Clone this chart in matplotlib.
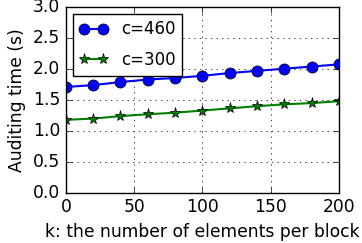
import matplotlib
matplotlib.use("Agg")
import matplotlib.pyplot as plt

plt.style.use("classic")

k = [0, 20, 40, 60, 80, 100, 120, 140, 160, 180, 200]
time_c460 = [1.71, 1.74, 1.79, 1.83, 1.855, 1.89, 1.935, 1.97, 2.005, 2.04, 2.075]
time_c300 = [1.18, 1.20, 1.24, 1.27, 1.295, 1.33, 1.365, 1.40, 1.43, 1.45, 1.48]

fig = plt.figure(figsize=(3.62, 2.43), dpi=100)
ax = fig.add_axes([0.182, 0.206, 0.754, 0.765])

ax.plot(k, time_c460, "b-o", lw=1.5, markersize=8, label="c=460")
ax.plot(k, time_c300, "g-*", lw=1.5, markersize=8, label="c=300")

ax.set_xlim(0, 200)
ax.set_ylim(0, 3.0)
ax.set_xticks([0, 50, 100, 150, 200])
ax.set_yticks([0.0, 0.5, 1.0, 1.5, 2.0, 2.5, 3.0])
ax.grid(True)
ax.tick_params(labelsize=12.3)
ax.set_xlabel("k: the number of elements per block", fontsize=12.3)
ax.set_ylabel("Auditing time (s)", fontsize=12.3)
ax.legend(loc="upper left", fontsize=12, numpoints=2, labelspacing=0.75,
          handlelength=1.7, borderaxespad=0.4)

fig.savefig("out.png", dpi=100)
